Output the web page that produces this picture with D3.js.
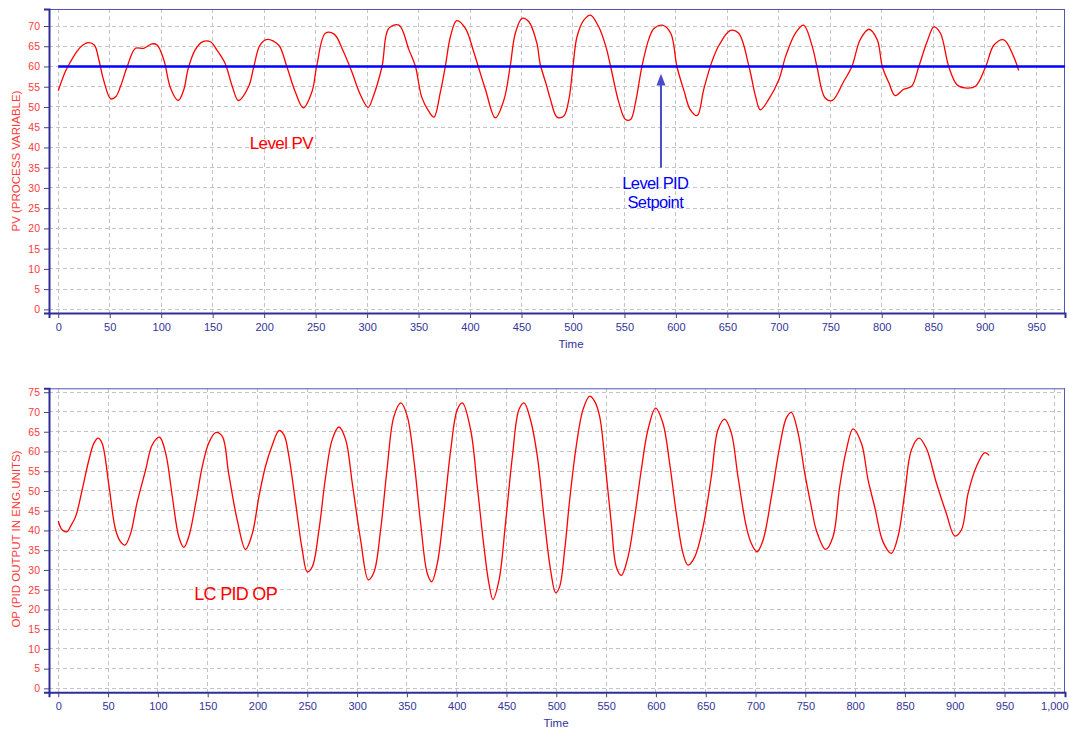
<!DOCTYPE html>
<html>
<head>
<meta charset="utf-8">
<script src="https://cdn.jsdelivr.net/npm/d3@7"></script>
<style>
html,body{margin:0;padding:0;background:#fff;}
svg{display:block;font-family:"Liberation Sans",Arial,sans-serif;}
</style>
</head>
<body>
<svg id="chart" width="1069" height="730"></svg>
<script>
// ---------- DATA ----------
const pvTimes = [0,7,12,17,23,29,35,39.5,44,51,56,60.5,67,75,83,91,96,102.6,109,116.5,122,126,133,140,148,154,162,169,175,185,190,196,203,214,222,230,238,246.6,251,259.5,268,277,285,293.5,301,306,314.5,321,331,340.7,347,353,360,365,371,376,381,387,395.5,403.5,408,415,424.6,433,439,444,450.6,457,465,468,474.6,478,484.5,491,496,500,504,510.7,517,525,532,536.6,544.7,551,556,561,567,574,578.7,586.8,595,601,608,614,620.8,627,635,642,653,661,671,677.4,682,690,700,706.6,716,724,732.5,737,745,752,763,771,779,787.5,795.6,800.5,807,813,821,829,836,844,850.7,857,865,873,881,891,901,909,918.6,928,933];
const pvValues = [54.0,58.8,61.2,63.3,65.1,65.9,65.3,61.6,56.7,52.0,52.6,55.1,60.0,64.5,64.5,65.6,65.3,61.6,54.7,51.6,54.3,59.3,64.1,66.1,66.1,64.1,60.8,55.1,51.6,55.1,60.0,65.3,66.7,65.3,60.0,53.9,49.8,53.9,60.0,68.2,68.0,63.7,58.8,53.0,49.9,52.6,60.0,69.4,70.2,64.1,60.0,52.5,48.9,47.5,53.4,60.0,67.4,71.3,69.4,63.7,60.0,54.3,47.3,51.8,60.0,68.2,71.9,71.1,65.7,60.8,55.1,52.0,47.5,47.7,51.8,60.0,67.4,71.5,72.7,69.8,64.9,60.0,51.0,46.9,46.9,51.4,60.0,67.0,69.4,70.2,68.2,60.0,53.9,49.3,47.9,54.3,61.2,65.3,68.9,68.2,60.0,52.6,49.3,51.8,56.7,62.5,68.2,70.2,64.9,60.0,52.2,51.6,56.3,60.0,66.6,69.2,66.6,60.0,55.9,52.8,54.3,55.1,60.0,66.1,69.8,68.2,60.0,55.5,54.7,55.1,60.0,65.3,66.6,62.5,59.0];

const opTimes = [0,4,9,12.4,17.4,24,30.8,35.8,40,44,51,57.6,62.6,67,72.6,79,87.7,94.4,101.7,107.8,114.5,121,126,131,138,144.6,151,158,164.7,171,179.7,188,194.8,201.5,208,215,221.6,226.6,231.6,238.3,245,250,255,261.7,268.4,275,281.8,288.5,295.2,303.6,311.3,317,323.6,330,337,344,350.4,357,363.8,370.5,375,380.5,387,394,400.6,405.7,414,420.7,427.4,432.4,436.4,442.5,449,455.9,462.5,467.6,474,481,487.6,494.3,499.4,503.3,508.4,513.4,520,526.8,533.5,538.5,543.5,550,555.2,560.2,565.3,572,578.7,585.3,592,599.7,607,613.8,620.5,627.2,632.2,639,647.3,655.6,662.3,669,675.7,682.4,690.8,695.8,701.5,707.5,716,724.3,731,736,742.7,749.4,756,761,770.4,777.8,784.5,791.2,797.9,806.3,813,819.6,828,836.4,843,849.8,856.5,864.2,871.5,881.6,891.6,900,906.7,913.4,921.8,930.2,934.6];
const opValues = [42.4,40.1,39.7,41.1,43.5,50.3,57.9,62.1,63.4,62.1,51.1,40.1,37.1,36.3,39.2,46.9,55.3,61.7,63.6,59.6,48.6,38.4,35.7,38.4,46.9,56.2,62.1,64.8,63.8,54.5,42.6,35.2,39.2,48.6,56.2,61.7,65.3,64.2,58.7,46.9,35.0,29.5,30.8,40.1,53.6,63.0,66.2,63.0,51.9,37.5,27.5,29.5,40.1,55.3,68.9,72.3,68.9,57.9,41.8,29.1,27.0,31.6,44.3,60.4,70.6,72.3,65.5,51.1,35.8,26.5,22.5,27.4,41.8,58.7,70.6,72.3,68.1,58.7,43.5,29.9,24.2,25.7,35.0,47.7,61.3,70.6,74.0,72.7,68.9,54.5,41.8,30.8,28.6,33.3,43.5,55.3,65.5,71.0,67.2,57.0,44.3,34.2,31.2,33.3,40.9,53.6,65.5,68.2,64.7,53.6,40.9,36.7,34.6,37.5,48.6,61.3,68.5,69.9,64.7,54.5,46.0,40.1,35.2,38.4,51.1,60.4,65.7,62.1,52.8,46.0,37.1,34.2,38.4,49.4,60.4,63.4,60.8,52.0,44.3,38.6,40.1,49.4,56.2,59.7,59.0];

const setpoint = 60;
const pvYTicks = d3.range(0, 71, 5);
const opYTicks = d3.range(0, 76, 5);
const pvXTicks = d3.range(0, 951, 50);
const opXTicks = d3.range(0, 1001, 50);

const pvTitle = "PV (PROCESS VARIABLE)";
const opTitle = "OP (PID OUTPUT IN ENG.UNITS)";
const xTitle = "Time";

// ---------- DRAW ----------
const svg = d3.select("#chart");
const NAVY = "#2e2e9a";
const RED = "#ff0000";
const TICKRED = "#ff3a3a";
const GRID = "#c4c4c4";

function panel(opts) {
  const {x, y, xTicks, yTicks, times, values, yTitle, yTitleY, timeX} = opts;
  const g = svg.append("g");
  const [x0, x1] = x.range();
  const [y0, y1] = y.range(); // y0 bottom, y1 top

  // grid
  g.append("g").selectAll("line.h").data(yTicks).join("line")
    .attr("x1", x0).attr("x2", x1)
    .attr("y1", d => y(d)).attr("y2", d => y(d))
    .attr("stroke", GRID).attr("stroke-width", 1).attr("stroke-dasharray", "4,3")
    .attr("shape-rendering", "crispEdges");
  g.append("g").selectAll("line.v").data(xTicks).join("line")
    .attr("x1", d => x(d)).attr("x2", d => x(d))
    .attr("y1", y1).attr("y2", y0)
    .attr("stroke", GRID).attr("stroke-width", 1).attr("stroke-dasharray", "4,3")
    .attr("shape-rendering", "crispEdges");

  // frame (top/right thin)
  g.append("line").attr("x1", x0).attr("x2", x1).attr("y1", y1 + 0.5).attr("y2", y1 + 0.5)
    .attr("stroke", "#5555b5").attr("stroke-width", 1);
  g.append("line").attr("x1", x1 - 0.5).attr("x2", x1 - 0.5).attr("y1", y1).attr("y2", y0)
    .attr("stroke", "#5555b5").attr("stroke-width", 1);

  // axes
  const xa = d3.axisBottom(x).tickValues(xTicks).tickSize(5).tickPadding(5)
    .tickFormat(d3.format(","));
  const gx = g.append("g").attr("transform", `translate(0,${y0})`).call(xa);
  gx.select(".domain").attr("stroke", NAVY).attr("stroke-width", 2);
  gx.selectAll(".tick line").attr("stroke", "#444488");
  gx.selectAll(".tick text").attr("fill", "#333399").attr("font-size", "11px")
    .attr("font-family", '"Liberation Sans",Arial,sans-serif');

  const ya = d3.axisLeft(y).tickValues(yTicks).tickSize(5).tickPadding(4);
  const gy = g.append("g").attr("transform", `translate(${x0},0)`).call(ya);
  gy.select(".domain").attr("stroke", NAVY).attr("stroke-width", 2);
  gy.selectAll(".tick line").attr("stroke", "#444488");
  gy.selectAll(".tick text").attr("fill", TICKRED).attr("font-size", "10.5px")
    .attr("font-family", '"Liberation Sans",Arial,sans-serif');

  // titles
  g.append("text").attr("x", timeX).attr("y", y0 + 35)
    .attr("text-anchor", "middle").attr("fill", "#333399").attr("font-size", "11.5px")
    .text(xTitle);
  g.append("text").attr("transform", `translate(15.5,${yTitleY}) rotate(-90)`)
    .attr("text-anchor", "middle").attr("dominant-baseline", "central")
    .attr("fill", TICKRED).attr("font-size", "11.5px").text(yTitle);

  // line
  const pts = times.map((t, i) => [t, values[i]]);
  const line = d3.line().x(d => x(d[0])).y(d => y(d[1])).curve(d3.curveCatmullRom.alpha(0.5));
  g.append("path").datum(pts).attr("d", line)
    .attr("fill", "none").attr("stroke", RED).attr("stroke-width", 1.3)
    .attr("stroke-linejoin", "round");
  return g;
}

// top panel
const xTop = d3.scaleLinear().domain([-9, 978]).range([49, 1065]);
const yTop = d3.scaleLinear().domain([-0.9, 74.2]).range([313, 9]);
const gTop = panel({x: xTop, y: yTop, xTicks: pvXTicks, yTicks: pvYTicks,
  times: pvTimes, values: pvValues, yTitle: pvTitle, yTitleY: 161, timeX: 571});

// setpoint line
gTop.append("line").attr("x1", xTop(0)).attr("x2", xTop.range()[1])
  .attr("y1", yTop(setpoint)).attr("y2", yTop(setpoint))
  .attr("stroke", "#0000ff").attr("stroke-width", 2.6);

// annotations
gTop.append("text").attr("x", xTop(186)).attr("y", yTop(39.6))
  .attr("fill", RED).attr("font-size", "17px").attr("letter-spacing", "-0.6px")
  .text("Level PV");
const arrowT = 585.5;
gTop.append("line").attr("x1", xTop(arrowT)).attr("x2", xTop(arrowT))
  .attr("y1", yTop(35)).attr("y2", yTop(56))
  .attr("stroke", "#4a4acc").attr("stroke-width", 2);
gTop.append("path")
  .attr("d", `M${xTop(arrowT)},${yTop(58.2)} L${xTop(arrowT) - 4.5},${yTop(55.3)} L${xTop(arrowT) + 4.5},${yTop(55.3)} Z`)
  .attr("fill", "#4a4acc");
gTop.append("text").attr("x", xTop(580)).attr("y", yTop(29.7))
  .attr("text-anchor", "middle").attr("fill", "#0000ff").attr("font-size", "16.5px")
  .attr("letter-spacing", "-0.6px").text("Level PID");
gTop.append("text").attr("x", xTop(580)).attr("y", yTop(25))
  .attr("text-anchor", "middle").attr("fill", "#0000ff").attr("font-size", "16.5px")
  .attr("letter-spacing", "-0.6px").text("Setpoint");

// bottom panel
const xBot = d3.scaleLinear().domain([-9.3, 1010.7]).range([49, 1065]);
const yBot = d3.scaleLinear().domain([-1.0, 76]).range([692.3, 388.3]);
const gBot = panel({x: xBot, y: yBot, xTicks: opXTicks, yTicks: opYTicks,
  times: opTimes, values: opValues, yTitle: opTitle, yTitleY: 539, timeX: 556});

gBot.append("text").attr("x", xBot(136.5)).attr("y", yBot(22.5))
  .attr("fill", RED).attr("font-size", "18px").attr("letter-spacing", "-0.7px")
  .text("LC PID OP");
</script>
</body>
</html>
